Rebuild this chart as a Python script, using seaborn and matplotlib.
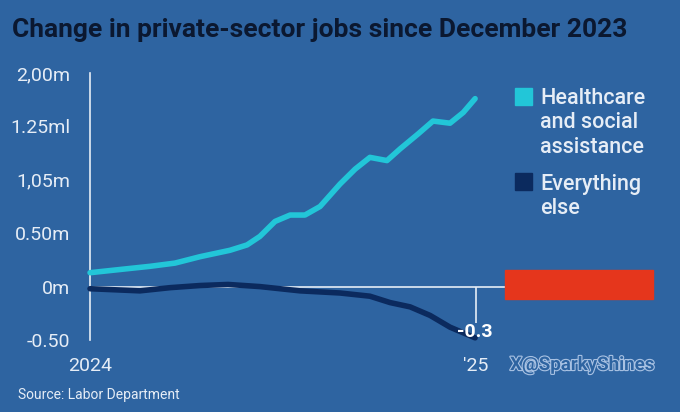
import matplotlib.pyplot as plt
import matplotlib.patheffects as pe
from matplotlib.patches import Rectangle
import pandas as pd
import seaborn as sns

# Data (x = months since Jan 2024, y = millions of jobs)
health_month = [0, 0.93, 1.87, 2.64, 3.42, 4.35, 4.88, 5.28, 5.75, 6.22, 6.68, 7.15,
                7.77, 8.24, 8.70, 9.23, 9.64, 10.20, 10.66, 11.19, 11.60, 11.97]
health_value = [0.13, 0.16, 0.19, 0.22, 0.28, 0.34, 0.39, 0.47, 0.61, 0.67, 0.67, 0.75,
                0.96, 1.10, 1.21, 1.18, 1.29, 1.43, 1.55, 1.53, 1.63, 1.76]
other_month = [0, 1.55, 2.49, 3.42, 4.29, 5.28, 6.53, 7.77, 8.70, 9.33, 9.95, 10.57,
               11.19, 11.97]
other_value = [-0.02, -0.04, -0.01, 0.01, 0.02, 0.0, -0.04, -0.06, -0.09, -0.15, -0.19,
               -0.27, -0.38, -0.48]

series_names = ['Healthcare\nand social\nassistance', 'Everything\nelse']
series_colors = ['#22c6d8', '#0b2a5e']
y_ticks = [-0.5, 0, 0.5, 1.0, 1.5, 2.0]
y_tick_labels = ['-0.50', '0m', '0.50m', '1,05m', '1.25ml', '2,00m']
x_ticks = [0, 12]
x_tick_labels = ['2024', "'25"]
end_label = '-0.3'

bg = '#2e64a1'
light = '#e6edf6'

df = pd.concat([
    pd.DataFrame({'month': health_month, 'value': health_value, 'series': series_names[0]}),
    pd.DataFrame({'month': other_month, 'value': other_value, 'series': series_names[1]}),
])

sns.set_style('white')
plt.rcParams['font.family'] = ['Roboto', 'DejaVu Sans']

fig = plt.figure(figsize=(6.8, 4.12), dpi=100, facecolor=bg)
ax = fig.add_axes([0.1324, 0.1748, 0.6103, 0.648])
ax.set_facecolor(bg)

ax.axhline(0, color=light, lw=1.2, zorder=1)
ax.vlines(12, -0.34, 0, color=light, lw=1.2, zorder=1)

sns.lineplot(data=df, x='month', y='value', hue='series', palette=series_colors,
             linewidth=4, legend=False, ax=ax, zorder=3)
for ln in ax.get_lines()[-2:]:
    ln.set_solid_capstyle('round')
    ln.set_solid_joinstyle('round')
    ln.set_clip_on(False)

ax.set_xlim(0, 12.9)
ax.set_ylim(-0.5, 2.0)
ax.set_yticks(y_ticks)
ax.set_yticklabels(y_tick_labels)
ax.set_xticks(x_ticks)
ax.set_xticklabels(x_tick_labels)
ax.set_xlabel('')
ax.set_ylabel('')

for s in ['top', 'right', 'bottom']:
    ax.spines[s].set_visible(False)
ax.spines['left'].set_color(light)
ax.spines['left'].set_linewidth(1.2)
ax.tick_params(axis='y', colors=light, length=6, width=1.2, pad=8, labelsize=14)
ax.tick_params(axis='x', colors=light, length=0, pad=12, labelsize=14)
for lbl in ax.get_yticklabels() + ax.get_xticklabels():
    lbl.set_color(light)

ax.annotate(end_label, (other_month[-1], other_value[-1]), xytext=(0, 4),
            textcoords='offset points', ha='center', va='center', color='white',
            fontsize=14, fontweight='bold', zorder=5)

# title and notes
fig.text(0.018, 0.927, 'Change in private-sector jobs since December 2023',
         fontsize=19, fontweight='bold', color='#0b1830', va='center')
fig.text(0.026, 0.042, 'Source: Labor Department', fontsize=10, color=light, va='center')
fig.text(0.856, 0.114, 'X@SparkyShines', fontsize=13.5, fontweight='bold', color=bg,
         ha='center', va='center',
         path_effects=[pe.withStroke(linewidth=1.6, foreground='#a9c2e3')])

# legend
legend_box_y = [0.766, 0.559]
legend_text_y = [0.786, 0.577]
for name, col, by, ty in zip(series_names, series_colors, legend_box_y, legend_text_y):
    fig.patches.append(Rectangle((0.757, by - 0.021), 0.026, 0.042,
                                 transform=fig.transFigure, color=col))
    fig.text(0.794, ty, name, fontsize=15.5, fontweight='medium', color=light,
             va='top', linespacing=1.2)

# red box beside the zero line
fig.patches.append(Rectangle((0.7426, 0.2743), 0.2176, 0.0704,
                             transform=fig.transFigure, color='#e5361c'))

fig.savefig('out.png', dpi=100, facecolor=bg)
